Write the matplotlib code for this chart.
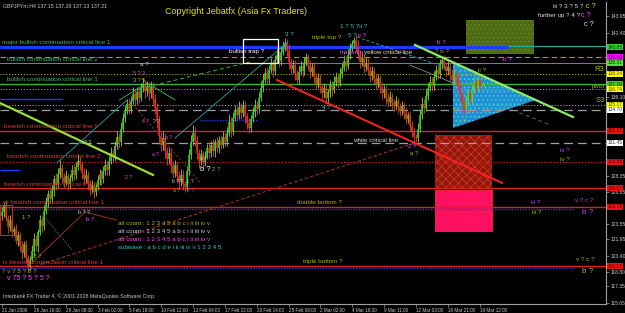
import matplotlib
matplotlib.use('Agg')
import matplotlib.pyplot as plt
import matplotlib.transforms as mtransforms
from matplotlib.patches import Rectangle, Polygon
import numpy as np

plt.rcParams['font.family'] = ['Liberation Sans', 'DejaVu Sans']
plt.rcParams['hatch.linewidth'] = 0.5

# ---------------- data ----------------
first_open = 124.2
closes = [
    124.6, 125.2, 124.0, 123.1, 123.8, 122.6,
    122.9, 121.7, 122.3, 121.2, 120.6, 121.4, 120.1,
    119.3, 119.9, 120.8, 121.9, 121.2,
    122.6, 123.8, 123.2, 124.7, 125.6, 126.4, 125.9,
    126.8, 127.9, 127.3, 128.4, 128.9, 128.1,
    127.5, 128.2, 127.4, 128.0, 128.7, 128.3, 129.0, 129.6, 129.2, 128.5,
    127.9, 128.3, 127.4, 126.8, 127.3, 126.6, 127.1,
    127.8, 128.4, 127.9, 128.6, 129.2, 128.7, 129.6, 130.4, 130.0,
    131.1, 132.0, 131.5, 132.8, 133.9, 134.6, 135.3,
    134.8, 135.6, 136.2, 135.7, 136.4, 135.9, 136.8, 137.2, 136.5,
    137.0, 136.3, 136.9, 135.8, 134.9,
    133.6, 132.1, 131.2, 131.9, 130.6, 129.8, 130.4, 129.1,
    128.5, 129.2, 128.2, 127.6, 128.3, 127.4,
    127.1, 128.6, 130.2, 131.5, 132.4,
    131.6, 130.4, 129.6, 130.3, 129.5, 130.1, 130.9,
    130.4, 131.2, 130.6, 131.5, 130.9, 131.7, 131.2, 132.0, 131.5,
    132.4, 133.5, 132.6, 133.9, 134.7, 134.2,
    135.0, 134.4, 135.2, 134.1, 133.4, 132.9, 133.8, 134.5,
    135.2, 134.8, 135.9, 136.8, 137.6, 138.3, 137.7,
    138.6, 139.2, 138.5, 139.6, 140.1, 139.5, 140.4, 140.9,
    141.3, 140.6, 139.4, 138.7, 139.1,
    138.2, 137.6, 138.4, 139.0, 138.5, 139.3, 139.8, 139.1, 138.4,
    138.9, 137.9, 137.2, 137.8, 136.9, 136.3, 136.8, 135.9, 136.4,
    137.1, 136.6, 137.4, 137.9, 137.3, 138.2, 138.8,
    139.5, 139.0, 140.1, 140.8, 141.2, 141.6,
    141.0, 140.2, 139.4, 139.8, 138.9, 139.3, 138.6, 138.0,
    138.5, 137.7, 137.2, 137.8, 136.9, 136.3, 136.7, 135.9,
    135.5, 136.0, 135.4, 135.1, 135.6, 135.0, 134.6, 135.1,
    134.4, 133.8, 134.2, 133.1, 132.5, 132.0, 131.9,
    132.8, 134.2, 135.3, 134.9, 136.1, 136.8,
    137.4, 137.0, 137.9, 138.6, 138.2, 139.2, 139.6,
    139.0, 138.5, 138.9, 138.1, 137.6, 138.2, 137.8,
    137.0, 136.2, 135.4, 134.8, 135.6, 136.3, 135.9,
    136.7, 137.4, 136.9, 137.6, 137.1, 137.15, 137.21,
]
upper_wick = [
    0.5, 0.4, 0.6, 0.3, 0.5, 0.4,
    0.3, 0.5, 0.4, 0.3, 0.5, 0.3, 0.4,
    0.3, 0.4, 0.5, 0.6, 0.4,
    0.3, 0.5, 0.4, 0.6, 0.5, 0.4, 0.7,
    0.5, 0.4, 0.6, 0.5, 0.8, 0.4,
    0.4, 0.5, 0.3, 0.4, 0.5, 0.6, 0.5, 0.7, 0.4, 0.3,
    0.4, 0.5, 0.3, 0.4, 0.5, 0.3, 0.4,
    0.5, 0.4, 0.3, 0.5, 0.6, 0.4, 0.5, 0.6, 0.4,
    0.5, 0.6, 0.4, 0.7, 0.5, 0.6, 0.5,
    0.6, 0.5, 0.7, 0.4, 0.5, 0.6, 0.5, 0.6, 0.4,
    0.5, 0.4, 0.6, 0.5, 0.4,
    0.5, 0.6, 0.4, 0.7, 0.5, 0.4, 0.6, 0.5,
    0.4, 0.5, 0.3, 0.4, 0.5, 0.4,
    0.3, 0.5, 0.6, 0.7, 0.8,
    0.6, 0.5, 0.4, 0.5, 0.3, 0.5, 0.4,
    0.5, 0.4, 0.6, 0.3, 0.5, 0.4, 0.5, 0.6, 0.4,
    0.6, 0.8, 0.5, 0.6, 0.5, 0.4,
    0.6, 0.4, 0.5, 0.4, 0.3, 0.5, 0.4, 0.5,
    0.6, 0.4, 0.5, 0.7, 0.6, 0.5, 0.6,
    0.5, 0.6, 0.4, 0.5, 0.6, 0.4, 0.5, 0.6,
    0.5, 0.4, 0.6, 0.4, 0.5,
    0.5, 0.4, 0.6, 0.5, 0.4, 0.6, 0.5, 0.4, 0.5,
    0.4, 0.5, 0.3, 0.5, 0.4, 0.3, 0.5, 0.4, 0.3,
    0.5, 0.4, 0.6, 0.5, 0.4, 0.6, 0.5,
    0.6, 0.5, 0.6, 0.5, 0.4, 0.3,
    0.5, 0.6, 0.4, 0.5, 0.4, 0.6, 0.5, 0.4,
    0.5, 0.4, 0.5, 0.4, 0.3, 0.5, 0.4, 0.3,
    0.4, 0.5, 0.3, 0.4, 0.5, 0.3, 0.4, 0.5,
    0.4, 0.5, 0.3, 0.4, 0.5, 0.4, 0.3,
    0.6, 0.5, 0.7, 0.5, 0.6, 0.5,
    0.6, 0.5, 0.6, 0.5, 0.4, 0.5, 0.3,
    0.5, 0.4, 0.6, 0.4, 0.5, 0.6, 0.4,
    0.5, 0.4, 0.3, 0.4, 0.5, 0.4, 0.5,
    0.4, 0.5, 0.3, 0.4, 0.5, 0.13, 0.07,
]
lower_wick = [
    0.4, 0.5, 0.3, 0.6, 0.4, 0.5,
    0.4, 0.3, 0.5, 0.4, 0.6, 0.4, 0.5,
    0.6, 0.4, 0.3, 0.5, 0.4,
    0.5, 0.3, 0.6, 0.4, 0.3, 0.5, 0.4,
    0.4, 0.6, 0.5, 0.3, 0.4, 0.6,
    0.5, 0.3, 0.6, 0.4, 0.3, 0.5, 0.4, 0.3, 0.5, 0.6,
    0.5, 0.4, 0.6, 0.5, 0.3, 0.6, 0.4,
    0.3, 0.5, 0.6, 0.4, 0.3, 0.5, 0.4, 0.3, 0.5,
    0.4, 0.3, 0.5, 0.4, 0.3, 0.4, 0.3,
    0.5, 0.4, 0.3, 0.6, 0.4, 0.5, 0.3, 0.4, 0.6,
    0.4, 0.6, 0.4, 0.7, 0.6,
    0.7, 0.8, 0.6, 0.5, 0.7, 0.6, 0.5, 0.6,
    0.5, 0.4, 0.6, 0.7, 0.4, 0.6,
    0.5, 0.4, 0.3, 0.4, 0.3,
    0.5, 0.6, 0.7, 0.4, 0.6, 0.4, 0.3,
    0.5, 0.4, 0.5, 0.6, 0.4, 0.5, 0.4, 0.3, 0.5,
    0.4, 0.3, 0.6, 0.4, 0.3, 0.5,
    0.4, 0.6, 0.4, 0.7, 0.6, 0.5, 0.4, 0.3,
    0.5, 0.6, 0.4, 0.3, 0.4, 0.3, 0.5,
    0.4, 0.3, 0.6, 0.4, 0.3, 0.6, 0.4, 0.3,
    0.4, 0.6, 0.7, 0.5, 0.4,
    0.6, 0.5, 0.4, 0.3, 0.6, 0.4, 0.3, 0.5, 0.6,
    0.4, 0.6, 0.5, 0.4, 0.6, 0.5, 0.4, 0.6, 0.5,
    0.4, 0.5, 0.3, 0.4, 0.5, 0.3, 0.4,
    0.3, 0.5, 0.3, 0.4, 0.3, 0.4,
    0.6, 0.5, 0.6, 0.4, 0.6, 0.4, 0.5, 0.6,
    0.4, 0.6, 0.5, 0.4, 0.6, 0.5, 0.4, 0.6,
    0.5, 0.4, 0.6, 0.5, 0.4, 0.6, 0.5, 0.4,
    0.6, 0.5, 0.4, 0.6, 0.5, 0.6, 0.4,
    0.4, 0.3, 0.4, 0.5, 0.3, 0.4,
    0.3, 0.5, 0.4, 0.3, 0.5, 0.4, 0.5,
    0.4, 0.5, 0.4, 0.6, 0.5, 0.4, 0.6,
    0.5, 0.6, 0.7, 0.5, 0.4, 0.5, 0.4,
    0.5, 0.4, 0.5, 0.4, 0.5, 0.02, 0.08,
]
time_labels = ["21 Jan 2009", "26 Jan 16:00", "29 Jan 08:00", "3 Feb 02:00",
               "5 Feb 18:00", "10 Feb 12:00", "13 Feb 04:00", "17 Feb 22:00",
               "20 Feb 14:00", "25 Feb 08:00", "2 Mar 02:00", "4 Mar 18:00",
               "9 Mar 11:00", "12 Mar 03:00", "16 Mar 21:00", "19 Mar 12:00"]
bars_per_label = 16
price_tick_labels = ["143.95", "142.40", "136.10", "128.35", "126.85", "123.55",
                     "121.95", "120.40", "118.80", "117.35", "115.65"]

# horizontal levels
levels = [140.85, 139.90, 139.31, 138.24, 137.19, 136.74, 135.17, 134.70,
          132.63, 131.45, 129.55, 126.97, 125.10, 119.27]
level_colors = ['#1a3cff', '#c08040', '#3cb043', '#c8c800', '#3cb043', '#c8c800',
                '#c8c800', '#a0a0a0', '#e02020', '#a0a0a0', '#e02020', '#e02020',
                '#e02020', '#e02020']
level_styles = ['-', (0, (5, 3)), '-', (0, (1, 2)), '-', (0, (1, 2)), (0, (1, 2)),
                (0, (7, 4)), '-', (0, (7, 4)), (0, (1, 1.5)), '-', '-', '-']
level_widths = [2.2, 0.8, 0.7, 0.7, 1.0, 0.7, 0.7, 0.9, 1.0, 0.9, 0.9, 1.0, 1.0, 1.0]
box_colors = ['#33cc33', '#ff00ff', '#55dd33', '#ffff00', '#44cc22', '#ffff00',
              '#ffff00', '#ffffff', '#ee1111', '#ffffff', '#ee1111', '#ee1111',
              '#ee1111', '#ee1111']
box_text = ['#003300', '#550055', '#003300', '#444400', '#003300', '#444400',
            '#444400', '#333333', '#660000', '#333333', '#660000', '#660000',
            '#660000', '#660000']

level_names = [
    ("major bullish continuation critical line 1", 0.0, 141.32, '#3cb371'),
    ("bullish continuation critical line 2", 2.5, 139.66, '#3cb371'),
    ("bullish continuation critical line 1", 2.5, 137.66, '#3cb371'),
    ("bearish continuation critical line 1", 1.0, 133.02, '#e83030'),
    ("bearish continuation critical line 2", 2.5, 130.05, '#e83030'),
    ("bearish continuation critical line 1", 1.0, 127.30, '#e83030'),
    ("or bearish continuation critical line 1", 0.5, 125.50, '#e83030'),
    ("iv bearish continuation critical line 1", 0.5, 119.62, '#e83030'),
]

# trend lines (bar, price) -> (bar, price)
trend_lines = [
    (138.2, 137.63, 251.3, 127.47, '#ff2020', 1.4, '-'),
    (207.5, 141.09, 286.9, 133.98, '#88ee66', 1.6, '-'),
    (-1.0, 135.36, 75.9, 128.26, '#99dd33', 1.6, '-'),
    (14.1, 119.08, 207.5, 131.42, '#993322', 0.8, (0, (3, 2))),
    (86.9, 131.90, 143.7, 141.38, '#30a0a0', 0.6, '-'),
    (72.9, 136.94, 124.6, 139.41, '#40b040', 0.7, (0, (4, 3))),
    (178.4, 141.88, 226.6, 138.60, '#30a0a0', 0.6, (0, (4, 2))),
    (205.0, 139.10, 226.6, 137.34, '#909090', 0.6, '-'),
    (59.0, 135.66, 72.9, 137.34, '#40c040', 0.6, '-'),
    (72.9, 137.34, 87.0, 135.66, '#40c040', 0.6, '-'),
    (20.6, 124.30, 35.2, 120.85, '#20a0a0', 0.7, (0, (1, 1.5))),
    (14.1, 119.40, 41.7, 124.60, '#993322', 0.7, '-'),
    (41.7, 124.60, 57.8, 123.80, '#993322', 0.7, '-'),
    (65.8, 135.20, 99.5, 127.50, '#993322', 0.6, (0, (3, 2))),
    (27.6, 129.44, 62.8, 135.66, '#20a0b0', 0.6, '-'),
    (260.0, 134.40, 275.4, 133.20, '#308040', 0.7, (0, (4, 3))),
]
blue_segments = [
    (-1.0, 254.3, 140.85, 2.2, '-'),
    (-1.0, 30.0, 135.76, 1.0, '-'),
    (99.5, 128.1, 133.69, 1.0, (0, (1, 1))),
    (-1.0, 9.0, 128.75, 1.0, '-'),
    (-1.0, 288.0, 124.90, 1.0, (0, (1, 1))),
    (-1.0, 288.0, 119.08, 1.0, (0, (1, 1))),
]

# rectangles: bar0, bar1, price_low, price_high
green_zone = (233.2, 267.3, 140.20, 143.56)
trap_box = (121.1, 138.7, 139.31, 141.68)
red_zone = (217.6, 246.2, 126.97, 132.20)
pink_zone = (217.6, 246.2, 122.73, 126.78)
start_box = (-1.0, 5.0, 122.30, 125.30)
triangle = [(226.6, 139.41), (226.6, 132.90), (268.3, 135.66)]

# wave count / comment texts: text, bar, price, colour, size
notes = [
    ("triple top ?", 155.8, 141.78, '#b4b400', 4.5),
    ("bullish trap ?", 114.1, 140.40, '#ffffff', 4.5),
    ("white critical line", 176.4, 131.61, '#d0d0d0', 4.5),
    ("double bottom ?", 148.2, 125.49, '#b4b400', 4.5),
    ("triple bottom ?", 151.3, 119.67, '#b4b400', 4.5),
    ("3 ?", 142.2, 142.17, '#40c0c0', 4.5),
    ("1 ? 5 7ii ?", 169.8, 142.87, '#40c0c0', 4.5),
    ("5 ?", 173.9, 142.07, '#40c0c0', 4.5),
    ("ii ?", 178.9, 142.07, '#ff40ff', 4.5),
    ("a ?", 69.3, 139.21, '#d0d0d0', 4.5),
    ("5 ? 3", 65.8, 138.23, '#ff40ff', 4.0),
    ("3 ? 5", 65.8, 137.63, '#b4b400', 4.0),
    ("4 ?", 160.8, 134.87, '#40c0c0', 4.3),
    ("2 ?", 204.0, 131.02, '#ff40ff', 4.3),
    ("a ?", 205.0, 130.33, '#b4b400', 4.3),
    ("b ?", 99.5, 128.75, '#ffffff', 5.5),
    ("2 ?", 105.5, 128.75, '#40c0c0', 4.3),
    ("a ?", 99.5, 129.84, '#d0d0d0', 3.6),
    ("b ?", 218.6, 141.38, '#ff40ff', 4.5),
    ("? b ?", 217.6, 140.40, '#b4b400', 4.5),
    ("b ?", 251.8, 139.61, '#ff40ff', 4.5),
    ("ii ?", 239.2, 138.52, '#b4b400', 4.5),
    ("ii ? c ?", 230.2, 134.38, '#c040ff', 4.5),
    ("i ?", 230.2, 133.50, '#b4b400', 4.3),
    ("iii ? 3 ? 5 ?", 276.9, 144.84, '#e0e0e0', 4.5),
    ("c ?", 293.5, 144.84, '#e0e000', 5.2),
    ("further up ? 4 ?", 269.3, 143.95, '#e0e0e0', 4.5),
    ("c ?", 291.0, 143.95, '#ff40ff', 5.2),
    ("c ?", 292.5, 143.06, '#e0e0e0', 5.2),
    ("iv ?", 280.4, 130.63, '#c040ff', 4.5),
    ("iv ?", 280.4, 129.74, '#b4b400', 4.5),
    ("iii ?", 265.8, 125.49, '#c040ff', 4.5),
    ("v ? c ?", 288.0, 125.69, '#c040ff', 4.5),
    ("b ?", 291.5, 124.51, '#c040ff', 5.8),
    ("iii ?", 266.3, 124.60, '#b4b400', 4.5),
    ("v ? c ?", 288.4, 119.87, '#b4b400', 4.5),
    ("b ?", 291.5, 118.68, '#b4b400', 5.8),
    ("alt count : 1 2 3 4 5 a b c i ii iii iv v", 58.3, 123.42, '#b4b400', 4.4),
    ("alt count : 1 2 3 4 5 a b c i ii iii iv v", 58.3, 122.63, '#d0d0d0', 4.4),
    ("alt count : 1 2 3 4 5 a b c i ii iii iv v", 58.3, 121.84, '#ff40ff', 4.4),
    ("subwave : a b c d e i ii iii iv v 1 2 3 4 5", 58.3, 121.05, '#40c0c0', 4.4),
    ("? v 7 5 ? 5 ?", 0.0, 118.68, '#b4b400', 4.5),
    ("v 75 ? 5 ? 5 ?", 2.5, 117.99, '#ff40ff', 5.0),
    ("1 ?", 10.0, 124.01, '#b4b400', 4.3),
    ("2 ?", 15.6, 120.16, '#b4b400', 4.3),
    ("b ? ?", 38.2, 124.60, '#d0d0d0', 4.0),
    ("b ?", 42.2, 123.90, '#ff40ff', 4.3),
    ("a ? ?", 39.2, 131.50, '#d0d0d0', 3.6),
    ("1 ?", 55.8, 130.90, '#ff40ff', 3.6),
    ("2 ?", 61.8, 128.00, '#ff40ff', 3.6),
    ("4 ?", 70.3, 133.50, '#ff40ff', 3.6),
    ("? ?", 75.9, 133.50, '#d0d0d0', 3.6),
    ("a ?", 81.9, 132.00, '#ff40ff', 3.6),
    ("a ?", 75.4, 130.30, '#ff40ff', 3.6),
    ("b ? ?", 85.4, 127.60, '#d0d0d0', 3.6),
    ("a ?", 86.0, 126.70, '#b4b400', 3.6),
    ("c ?", 92.9, 127.60, '#d0d0d0', 3.6),
    ("? ?", 92.9, 126.70, '#ff40ff', 3.6),
]

# ---------------- drawing ----------------
W, H = 625, 313
fig = plt.figure(figsize=(W / 100, H / 100), dpi=100, facecolor='black')
ax = fig.add_axes([0, 9 / H, 606 / W, 302 / H])
ax.set_facecolor('black')
ax.set_xlim(-1.0, 303.5)
ax.set_ylim(115.52, 145.33)

n = len(closes)
idx = np.arange(n)
c = np.array(closes)
o = np.r_[first_open, c[:-1]]
hi = np.maximum(o, c) + np.array(upper_wick)
lo = np.minimum(o, c) - np.array(lower_wick)
up = c >= o

# levels
for p, col, ls, lw in zip(levels, level_colors, level_styles, level_widths):
    if col == '#1a3cff':
        ax.axhline(p + 0.15, color='#20b0a0', lw=0.8, zorder=2)
        continue
    ax.axhline(p, color=col, ls=ls, lw=lw, zorder=2)
for b0, b1, p, lw, ls in blue_segments:
    ax.plot([b0, b1], [p, p], color='#1a3cff', lw=lw, ls=ls, zorder=2.2,
            solid_capstyle='butt')

# zones
def rect(z, **kw):
    b0, b1, p0, p1 = z
    ax.add_patch(Rectangle((b0, p0), b1 - b0, p1 - p0, **kw))

rect(green_zone, fc='#4d6b14', ec='#6b8b22', hatch='....', lw=0, zorder=1.5)
rect(red_zone, fc='#8c1a0c', ec='#e03322', hatch='xxxx', lw=0, zorder=1.5)
rect(pink_zone, fc='#ff1060', ec='#ff2050', lw=0.6, zorder=1.5)
rect(trap_box, fc='none', ec='#ffffff', lw=0.9, zorder=4)
rect(start_box, fc='none', ec='#e02020', lw=0.7, zorder=4)
ax.add_patch(Polygon(triangle, closed=True, fc='#1f8fd0', ec='#40e0e0',
                     hatch='....', lw=0, zorder=1.6))

# candles: wicks then bodies as thick vertical strokes
wick_col = np.where(up, '#9acd32', '#dd4422')
body_col = np.where(up, '#22dd22', '#ff2222')
ax.vlines(idx, lo, hi, colors=wick_col, lw=0.6, zorder=3)
body_top = np.maximum(o, c)
body_bot = np.minimum(o, c)
ax.vlines(idx, body_bot, np.maximum(body_top, body_bot + 0.06), colors=body_col,
          lw=1.1, zorder=3.1)

# trend lines
for b0, p0, b1, p1, col, lw, ls in trend_lines:
    ax.plot([b0, b1], [p0, p1], color=col, lw=lw, ls=ls, zorder=3.5)

# level names
for txt, b, p, col in level_names:
    ax.text(b, p, txt, color=col, fontsize=4.6, va='center', ha='left', zorder=6)

for txt, b, p, col, fs in notes:
    ax.text(b, p, txt, color=col, fontsize=fs, va='center', ha='left', zorder=6)

ax.text(169.8, 140.30, "magenta", color='#ff40ff', fontsize=4.5, va='center', zorder=6)
ax.text(182.0, 140.30, "yellow critical line", color='#e8e0b0', fontsize=4.5,
        va='center', zorder=6)

# pivot names at right edge
for txt, p, fs in [("R3", 138.24, 5.5), ("pivot", 136.74, 4.5), ("S3", 135.17, 5.5)]:
    ax.text(302.8, p + 0.05, txt, color='#b4b400', fontsize=fs, ha='right',
            va='bottom', zorder=6)

# header / copyright / footer
ax.text(0.5, 145.0, "GBPJPYm,H4 137.15 137.28 137.13 137.21", color='#c8c8c8',
        fontsize=3.8, va='center', ha='left', zorder=6)
ax.text(81.9, 144.44, "Copyright Jebatfx (Asia Fx Traders)", color='#e6e600',
        fontsize=6.5, va='center', ha='left', zorder=6)
ax.text(0.5, 116.31, "Interbank FX Trader 4, \u00a9 2001-2008 MetaQuotes Software Corp.",
        color='#c8c8c8', fontsize=3.8, va='center', ha='left', zorder=6)

# axes
for s in ['left', 'top']:
    ax.spines[s].set_visible(False)
for s in ['right', 'bottom']:
    ax.spines[s].set_color('#a0a0a0')
    ax.spines[s].set_linewidth(0.8)
ax.yaxis.tick_right()
# MetaTrader prints its scale labels slightly below the grid value
tick_pos = [float(t) - d for t, d in zip(price_tick_labels,
            [0.0, 0.12, 0.10, 0.15, 0.28, 0.18, 0.0, 0.12, 0.12, 0.1, 0.0])]
ax.set_yticks(tick_pos)
ax.set_yticklabels(price_tick_labels)
ax.tick_params(axis='y', colors='#a0a0a0', labelcolor='#c8c8c8', labelsize=3.6,
               length=2, width=0.5, pad=1)
xt = np.arange(len(time_labels)) * bars_per_label
ax.set_xticks(xt)
ax.set_xticklabels(time_labels, ha='left')
ax.tick_params(axis='x', colors='#a0a0a0', labelcolor='#c8c8c8', labelsize=3.3,
               length=2, width=0.5, pad=1)

trans = mtransforms.blended_transform_factory(ax.transAxes, ax.transData)
for p, bc, tc in zip(levels, box_colors, box_text):
    ax.text(1.003, p, f"{p:.2f}", transform=trans, fontsize=3.5, color=tc,
            va='center', ha='left', clip_on=False, zorder=10,
            bbox=dict(boxstyle='square,pad=0.1', fc=bc, ec='none'))

fig.savefig('out.png', dpi=100, facecolor='black')
